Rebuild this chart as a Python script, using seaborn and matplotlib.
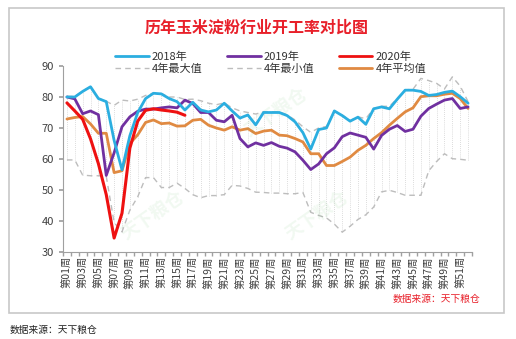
import numpy as np
import pandas as pd
import matplotlib
matplotlib.use("Agg")
import matplotlib.pyplot as plt
import seaborn as sns

sns.set_theme(style="white")
plt.rcParams['font.family'] = ['Noto Sans CJK SC', 'DejaVu Sans']
plt.rcParams['axes.unicode_minus'] = False

weeks = list(range(1, 53))
week_labels = [f"第{w:02d}周" if w % 2 == 1 else "" for w in weeks]

y2018 = [80, 80, 81.8, 83.3, 79.5, 78.5, 66, 56.5, 67.5, 75, 79.5, 81.2, 81, 79.5, 78.5, 75.8, 78.3,
         75.8, 75.2, 75.8, 78, 75.5, 73.2, 74.2, 71, 75, 75, 75, 74, 72, 68.5, 63.2, 69.5, 70, 75.5,
         74, 72.2, 73.5, 71.2, 76.2, 76.8, 76.2, 79.3, 82.2, 82.2, 81.8, 80.5, 80.8, 81.5, 81.9, 80.1, 78]
y2019 = [80, 79.4, 74.6, 75.5, 74.3, 54.7, 62, 70.4, 73.6, 75.4, 76.1, 76.1, 76.5, 76.8, 76.5, 79, 77.9,
         75, 75, 72.5, 72, 74.1, 66.6, 63.9, 65.2, 64.4, 65.3, 64.1, 63.5, 62.3, 59.6, 56.6, 58.4, 61.7,
         63.6, 67.2, 68.4, 67.7, 67, 63.2, 67.6, 69.6, 70.8, 68.9, 69.6, 73.8, 76.3, 77.7, 79, 79.5, 76.3, 76.8]
y2020 = [78.1, 75.5, 72.8, 66.5, 58.5, 48.5, 34.5, 42.5, 63.5, 72.2, 75.7, 76.2, 75.8, 75.5, 75.1, 74.1]
y_max = [80.2, 80.2, 81.9, 83.4, 79.6, 78.6, 77.3, 79, 78.7, 79.3, 80.5, 81.3, 81.1, 80, 80, 79.2, 79.3,
         78.8, 78, 77.5, 78.1, 76.5, 75.5, 75, 74.5, 75.2, 75.2, 75.2, 74.2, 72.6, 70.4, 68.6, 70, 70.5,
         75.6, 74.2, 72.4, 73.6, 73, 76.3, 77, 77, 79.5, 82.3, 82.5, 86, 85.3, 84.4, 82.6, 86.5, 83.5, 78.5]
y_min = [59.7, 59.7, 54.8, 54.6, 54.6, 54.4, 39.5, 36.5, 43.5, 47.8, 54, 54, 50.8, 50.8, 52.2, 50.5, 48.5,
         47.5, 48.2, 48.2, 48.5, 51.5, 51.3, 50.5, 49.3, 49.2, 49, 49, 48.8, 48.8, 49.2, 42.8, 41.8, 41,
         39, 36.4, 38.3, 40.5, 42, 44.5, 49.4, 49.9, 49.2, 48.3, 48.3, 48.3, 56.2, 59.2, 61.7, 60.1, 59.9, 59.6]
y_avg = [72.9, 73.4, 73.7, 71.3, 68.3, 68.3, 55.6, 56.2, 65, 67.8, 71.8, 72.6, 71.4, 71.6, 70.6, 70.7, 72.5,
         72.8, 70.9, 70, 69.3, 70.4, 69.3, 69.8, 68.2, 69, 69.3, 67.7, 67.5, 66.6, 65.5, 61.7, 61.7, 57.9,
         57.9, 59.2, 60.6, 62.8, 64.4, 66.6, 68.5, 70.9, 73.1, 75.2, 76.5, 80.1, 80.4, 80.4, 80.9, 81.2, 79.5, 76.3]

c2018 = "#2BAEE0"
c2019 = "#7030A0"
c2020 = "#EE1111"
cgray = "#BDBDBD"
cavg = "#E08A42"

fig = plt.figure(figsize=(5.16, 3.39), dpi=100)
fig.patch.set_facecolor("white")
ax = fig.add_axes([63/516, 1-252/339, (472-63)/516, (252-66)/339])

# outer frame
frame = plt.Rectangle((9/516, 1-313/339), (504-9)/516, (313-8)/339, transform=fig.transFigure,
                      fill=False, edgecolor="#C8C8C8", linewidth=1.2)
fig.patches.append(frame)

# high-low dotted lines
ax.vlines(weeks, y_min, y_max, colors="#D0D0D0", linestyles=(0, (1, 1.5)), linewidth=0.6, zorder=1)

sns.lineplot(x=weeks, y=y_max, ax=ax, color=cgray, linewidth=1.0, linestyle=(0, (4, 3)), zorder=2)
sns.lineplot(x=weeks, y=y_min, ax=ax, color=cgray, linewidth=1.0, linestyle=(0, (4, 3)), zorder=2)
sns.lineplot(x=weeks, y=y_avg, ax=ax, color=cavg, linewidth=2.0, zorder=3)
sns.lineplot(x=weeks, y=y2019, ax=ax, color=c2019, linewidth=2.0, zorder=4)
sns.lineplot(x=weeks, y=y2018, ax=ax, color=c2018, linewidth=2.0, zorder=5)
sns.lineplot(x=weeks[:len(y2020)], y=y2020, ax=ax, color=c2020, linewidth=2.2, zorder=6)

ax.set_xlim(0.5, 52.5)
ax.set_ylim(30, 90)
ax.set_yticks(range(30, 91, 10))
ax.set_xticks([w for w in weeks if w % 2 == 1])
ax.set_xticklabels([l for l in week_labels if l], rotation=90, fontsize=7.5, color="#404040")
ax.set_xticks(np.arange(0.5, 53, 1), minor=True)
ax.tick_params(axis='x', which='major', length=0, pad=3)
ax.tick_params(axis='x', which='minor', length=3, color="#A0A0A0", direction='out', bottom=True)
ax.tick_params(axis='y', length=3, color="#A0A0A0", direction='out', left=True, labelsize=8, labelcolor="#404040")
ax.set_xlabel("")
ax.set_ylabel("")
for s in ["top", "right"]:
    ax.spines[s].set_visible(False)
for s in ["left", "bottom"]:
    ax.spines[s].set_color("#A0A0A0")
    ax.spines[s].set_linewidth(0.8)
ax.grid(False)

# watermarks
for (wx, wy) in [(0.22, 0.2), (0.62, 0.2), (0.52, 0.75)]:
    ax.text(wx, wy, "天下粮仓", transform=ax.transAxes, rotation=35, fontsize=13,
            color="#4CAF50", alpha=0.08, ha="center", va="center", fontweight="bold")

# legend
from matplotlib.lines import Line2D
handles = [
    Line2D([], [], color=c2018, lw=2), Line2D([], [], color=cgray, lw=1, ls=(0, (4, 3))),
    Line2D([], [], color=c2019, lw=2), Line2D([], [], color=cgray, lw=1, ls=(0, (4, 3))),
    Line2D([], [], color=c2020, lw=2), Line2D([], [], color=cavg, lw=2),
]
labels = ["2018年", "4年最大值", "2019年", "4年最小值", "2020年", "4年平均值"]
fig.legend(handles, labels, ncol=3, loc="center", bbox_to_anchor=(0.525, 0.815), frameon=False,
           fontsize=8, handlelength=3.0, columnspacing=2.2, labelspacing=0.15, handletextpad=0.3,
           labelcolor="#333333")

fig.text(0.498, 1-28/339, "历年玉米淀粉行业开工率对比图", ha="center", va="center",
         fontsize=11.5, color="#E8202A", fontweight="bold")
fig.text(480/516, 1-299/339, "数据来源：天下粮仓", ha="right", va="center",
         fontsize=7, color="#E8202A", style="italic")
fig.text(10/516, 1-330/339, "数据来源：天下粮仓", ha="left", va="center",
         fontsize=7, color="#222222")

fig.savefig("out.png", dpi=100, facecolor="white")
